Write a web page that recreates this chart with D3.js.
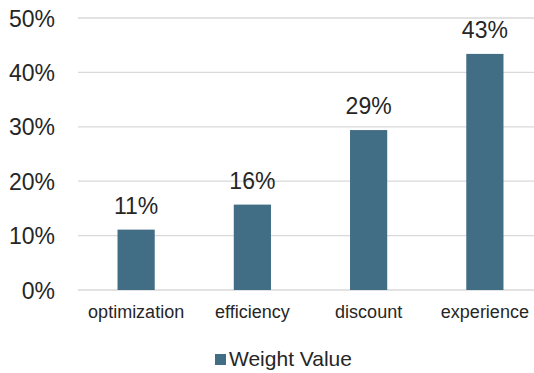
<!DOCTYPE html>
<html><head><meta charset="utf-8">
<script src="https://cdn.jsdelivr.net/npm/d3@7"></script>
<style>body{margin:0;background:#fff}svg{display:block}text{font-family:"Liberation Sans",Arial,sans-serif;fill:#262626}</style>
</head><body><svg id="c" width="534" height="373"></svg>
<script>
const categories = ["optimization","efficiency","discount","experience"];
const values = [0.111, 0.157, 0.294, 0.434];
const labels = ["11%","16%","29%","43%"];
const yTicks = [0,0.1,0.2,0.3,0.4,0.5];
const seriesName = "Weight Value";

const svg = d3.select("#c");
const x = d3.scaleBand().domain(categories).range([78,543]).paddingInner(0.68).paddingOuter(0.34);
const y = d3.scaleLinear().domain([0,0.5]).range([290,18]);

svg.append("g").selectAll("line").data(yTicks).join("line")
  .attr("x1",78).attr("x2",534).attr("y1",d=>y(d)).attr("y2",d=>y(d))
  .attr("stroke","#d9d9d9").attr("stroke-width",1.3);

const yAxis = d3.axisLeft(y).tickValues(yTicks).tickFormat(d3.format(".0%")).tickSize(0).tickPadding(0);
const ga = svg.append("g").attr("transform","translate(55,0)").call(yAxis);
ga.select(".domain").remove();
ga.selectAll("text").style("font-size","23px").attr("fill","#262626").attr("font-family",null).attr("dy","0.35em");

svg.append("g").selectAll("rect").data(values).join("rect")
  .attr("x",(d,i)=>x(categories[i])).attr("width",x.bandwidth())
  .attr("y",d=>y(d)).attr("height",d=>y(0)-y(d)).attr("fill","#426e85");

svg.append("g").selectAll("text").data(values).join("text")
  .attr("x",(d,i)=>x(categories[i])+x.bandwidth()/2).attr("y",d=>y(d)-16)
  .attr("text-anchor","middle").style("font-size","23px").text((d,i)=>labels[i]);

const xAxis = d3.axisBottom(x).tickSize(0).tickPadding(0);
const gx = svg.append("g").attr("transform","translate(0,318)").call(xAxis);
gx.select(".domain").remove();
gx.selectAll("text").style("font-size","18px").attr("fill","#262626").attr("font-family",null).attr("dy","0");

const lg = svg.append("g");
lg.append("rect").attr("x",215).attr("y",354).attr("width",11).attr("height",11).attr("fill","#426e85");
lg.append("text").attr("x",229).attr("y",366).style("font-size","21px").text(seriesName);
</script></body></html>
